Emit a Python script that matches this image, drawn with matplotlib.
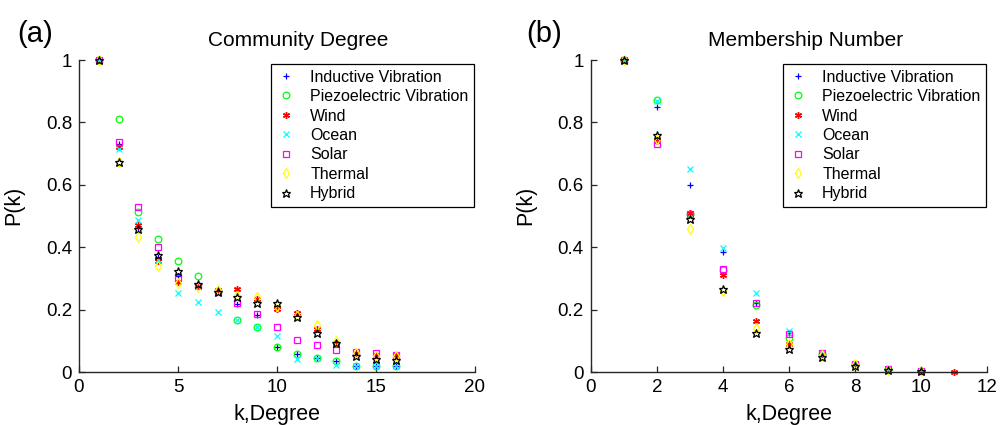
import matplotlib
matplotlib.use("Agg")
import matplotlib.pyplot as plt

plt.rcParams['font.family'] = ['Liberation Sans', 'DejaVu Sans']

series_names = ["Inductive Vibration", "Piezoelectric Vibration", "Wind", "Ocean",
                "Solar", "Thermal", "Hybrid"]

# (a) Community Degree
k_a = list(range(1, 17))
a_inductive = [1, 0.732, 0.46, 0.37, 0.309, 0.275, 0.26, 0.218, 0.184, 0.081, 0.059, 0.046, 0.035, 0.019, 0.018, 0.018]
a_piezo     = [1, 0.812, 0.512, 0.427, 0.357, 0.309, 0.26, 0.167, 0.143, 0.081, 0.059, 0.046, 0.035, 0.019, 0.018, 0.018]
a_wind      = [1, 0.72, 0.472, 0.357, 0.29, 0.278, 0.263, 0.266, 0.235, 0.201, 0.188, 0.137, 0.094, 0.062, 0.055, 0.055]
a_ocean     = [1, 0.716, 0.486, 0.36, 0.252, 0.225, 0.192, 0.167, 0.143, 0.114, 0.043, 0.046, 0.022, 0.019, 0.018, 0.018]
a_solar     = [1, 0.737, 0.528, 0.40, 0.30, 0.275, 0.255, 0.22, 0.186, 0.145, 0.104, 0.086, 0.071, 0.064, 0.06, 0.055]
a_thermal   = [1, 0.673, 0.432, 0.341, 0.285, 0.272, 0.262, 0.245, 0.24, 0.21, 0.18, 0.151, 0.1, 0.062, 0.05, 0.05]
a_hybrid    = [1, 0.673, 0.457, 0.375, 0.325, 0.282, 0.257, 0.239, 0.22, 0.221, 0.177, 0.126, 0.094, 0.051, 0.043, 0.039]

# (b) Membership Number
k_b = list(range(1, 11))
k_b_wind = list(range(1, 12))
b_inductive = [1, 0.848, 0.60, 0.386, 0.22, 0.125, 0.06, 0.027, 0.009, 0.002]
b_piezo     = [1, 0.871, 0.505, 0.327, 0.215, 0.108, 0.058, 0.027, 0.009, 0.002]
b_wind      = [1, 0.74, 0.509, 0.311, 0.164, 0.089, 0.058, 0.027, 0.009, 0.002, 0.0]
b_ocean     = [1, 0.87, 0.652, 0.398, 0.252, 0.132, 0.06, 0.027, 0.009, 0.002]
b_solar     = [1, 0.73, 0.505, 0.33, 0.22, 0.121, 0.062, 0.027, 0.009, 0.002]
b_thermal   = [1, 0.746, 0.457, 0.26, 0.142, 0.09, 0.055, 0.025, 0.008, 0.002]
b_hybrid    = [1, 0.759, 0.489, 0.266, 0.126, 0.075, 0.049, 0.019, 0.007, 0.002]

asterisk = (6, 2, 0)
styles = [
    dict(marker='+', color='#0000ff', mfc='#0000ff', ms=5, mew=0.9),
    dict(marker='o', color='#00ff00', mfc='none', ms=4.8, mew=0.9),
    dict(marker=asterisk, color='#ff0000', mfc='#ff0000', ms=5, mew=1.0),
    dict(marker='x', color='#00ffff', mfc='none', ms=3.8, mew=0.9),
    dict(marker='s', color='#ff00ff', mfc='none', ms=4.3, mew=0.9),
    dict(marker='d', color='#ffff00', mfc='none', ms=5.2, mew=0.9),
    dict(marker='*', color='#000000', mfc='none', ms=6.3, mew=0.9),
]

fig = plt.figure(figsize=(10.01, 4.25), dpi=100)
ax1 = fig.add_axes([0.0789, 0.1247, 0.3956, 0.7341])
ax2 = fig.add_axes([0.5901, 0.1247, 0.3963, 0.7341])

data_a = [a_inductive, a_piezo, a_wind, a_ocean, a_solar, a_thermal, a_hybrid]
data_b = [b_inductive, b_piezo, b_wind, b_ocean, b_solar, b_thermal, b_hybrid]

for name, y, st in zip(series_names, data_a, styles):
    ax1.plot(k_a, y, linestyle='none', label=name, clip_on=False, **st)
for name, y, st in zip(series_names, data_b, styles):
    xs = k_b_wind if len(y) == len(k_b_wind) else k_b
    ax2.plot(xs, y, linestyle='none', label=name, clip_on=False, **st)

def style_ax(ax, xlim, xticks, title, title_x, legend_anchor):
    ax.set_xlim(*xlim)
    ax.set_ylim(0, 1)
    ax.set_xticks(xticks)
    ax.set_yticks([0, 0.2, 0.4, 0.6, 0.8, 1])
    ax.set_yticklabels(['0', '0.2', '0.4', '0.6', '0.8', '1'])
    for s in ['top', 'right']:
        ax.spines[s].set_visible(False)
    for s in ['left', 'bottom']:
        ax.spines[s].set_color('#262626')
        ax.spines[s].set_linewidth(1.0)
    ax.tick_params(direction='in', length=4, width=0.9, labelsize=13.5, colors='#262626',
                   labelcolor='black', pad=5)
    ax.set_xlabel('k,Degree', fontsize=15.5, labelpad=5.5)
    ax.set_ylabel('P(k)', fontsize=15.5)
    ax.yaxis.set_label_coords(-0.138, 0.535)
    ax.set_title(title, fontsize=15, pad=10, x=title_x)
    leg = ax.legend(loc='upper left', bbox_to_anchor=legend_anchor, bbox_transform=fig.transFigure,
                    fontsize=11.5, frameon=True, fancybox=False, framealpha=1,
                    edgecolor='black', handlelength=1.2, handletextpad=0.9,
                    labelspacing=0.28, borderpad=0.35, borderaxespad=0)
    leg.get_frame().set_linewidth(0.9)

style_ax(ax1, (0, 20), [0, 5, 10, 15, 20], 'Community Degree', 0.553, (271/1001, 1 - 64/425))
style_ax(ax2, (0, 12), [0, 2, 4, 6, 8, 10, 12], 'Membership Number', 0.541, (783/1001, 1 - 64/425))

fig.text(17/1001, 1 - 34/425, '(a)', fontsize=21, va='center', ha='left')
fig.text(526/1001, 1 - 34/425, '(b)', fontsize=21, va='center', ha='left')

fig.savefig('out.png', dpi=100)
